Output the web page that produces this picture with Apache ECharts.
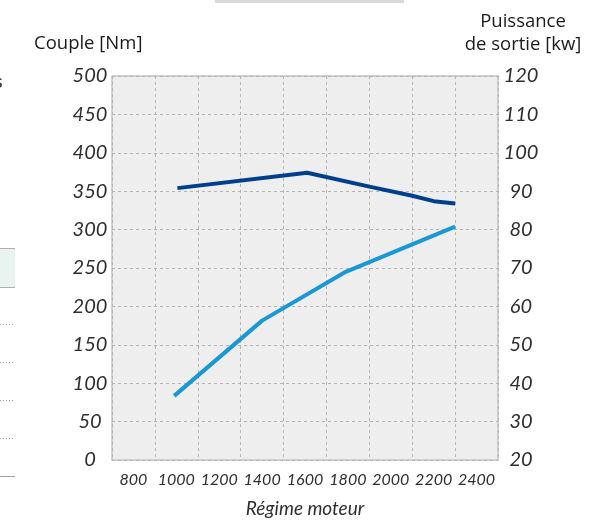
<!DOCTYPE html>
<html>
<head>
<meta charset="utf-8">
<script src="https://cdn.jsdelivr.net/npm/echarts@6/dist/echarts.min.js"></script>
<style>
html,body{margin:0;padding:0;background:#fff;}
#chart{width:605px;height:521px;}
</style>
</head>
<body>
<div id="chart"></div>
<script>
// Category tick labels of the rpm axis
var rpmLabels = ['800', '1000', '1200', '1400', '1600', '1800', '2000', '2200', '2400'];
// Torque curve [rpm, Nm]
var torqueData = [[1005, 354], [1610, 374], [1900, 356], [2100, 344], [2200, 337], [2300, 334]];
// Power curve [rpm, kW]
var powerData = [[990, 36.7], [1400, 56.3], [1790, 69], [2300, 80.8]];

var leftTitle = 'Couple [Nm]';
var rightTitle = 'Puissance\nde sortie [kw]';
var xTitle = 'Régime moteur';

var FONT = 'Lato';
var TFONT = '"Open Sans"';
var chart = echarts.init(document.getElementById('chart'), null, {renderer: 'canvas'});

var dashed = {show: true, lineStyle: {color: '#b4b4b4', type: [3, 3], width: 1}};

chart.setOption({
  animation: false,
  backgroundColor: '#ffffff',
  grid: {left: 112, right: 107, top: 76, bottom: 61, outerBoundsMode: 'none', containLabel: false, show: true, backgroundColor: '#edeeed', borderColor: '#c4c4c4', borderWidth: 1.5},
  xAxis: [
    {
      type: 'category', data: rpmLabels, boundaryGap: true, position: 'bottom',
      axisLine: {show: false}, axisTick: {show: false},
      splitLine: {show: true, interval: 0, lineStyle: {color: '#b4b4b4', type: [3, 3], width: 1}},
      axisLabel: {interval: 0, margin: 12, color: '#2e2e2e', fontFamily: FONT, fontStyle: 'italic', fontSize: 16},
      name: xTitle, nameLocation: 'middle', nameGap: 39,
      nameTextStyle: {color: '#2e2e2e', fontFamily: FONT, fontStyle: 'italic', fontSize: 19}
    },
    {type: 'value', min: 700, max: 2500, show: false}
  ],
  yAxis: [
    {
      type: 'value', min: 0, max: 500, interval: 50, position: 'left',
      axisLine: {show: false}, axisTick: {show: false},
      splitLine: dashed,
      axisLabel: {margin: 22, align: 'center', color: '#2e2e2e', fontFamily: FONT, fontStyle: 'italic', fontSize: 20}
    },
    {
      type: 'value', min: 20, max: 120, interval: 10, position: 'right',
      axisLine: {show: false}, axisTick: {show: false},
      splitLine: {show: false},
      axisLabel: {margin: 23, align: 'center', color: '#2e2e2e', fontFamily: FONT, fontStyle: 'italic', fontSize: 20}
    }
  ],
  series: [
    {
      name: 'Couple', type: 'line', xAxisIndex: 1, yAxisIndex: 0, data: torqueData,
      symbol: 'none', lineStyle: {color: '#003f8e', width: 4}, z: 3
    },
    {
      name: 'Puissance', type: 'line', xAxisIndex: 1, yAxisIndex: 1, data: powerData,
      symbol: 'none', lineStyle: {color: '#1a98d5', width: 4}, z: 3
    }
  ],
  graphic: [
    {type: 'text', x: 34, y: 44, style: {text: leftTitle, fill: '#1a1a1a', font: '18.5px ' + TFONT, verticalAlign: 'middle'}},
    {type: 'text', x: 523, y: 10, style: {text: rightTitle, fill: '#1a1a1a', font: '18.5px ' + TFONT, align: 'center', lineHeight: 23}},
    {type: 'rect', shape: {x: 215, y: 0, width: 189, height: 3}, style: {fill: '#d9d9d9'}},
    {type: 'text', x: -6, y: 72, style: {text: 's', fill: '#333', font: '20px ' + FONT}},
    {type: 'rect', shape: {x: 0, y: 248, width: 15, height: 39}, style: {fill: '#e9f3ef'}},
    {type: 'line', shape: {x1: 0, y1: 248.5, x2: 15, y2: 248.5}, style: {stroke: '#b0b0b0', lineWidth: 1}},
    {type: 'line', shape: {x1: 0, y1: 287.5, x2: 15, y2: 287.5}, style: {stroke: '#b0b0b0', lineWidth: 1}},
    {type: 'line', shape: {x1: 0, y1: 324.5, x2: 15, y2: 324.5}, style: {stroke: '#a0a0a0', lineDash: [1, 2]}},
    {type: 'line', shape: {x1: 0, y1: 362.5, x2: 15, y2: 362.5}, style: {stroke: '#a0a0a0', lineDash: [1, 2]}},
    {type: 'line', shape: {x1: 0, y1: 400.5, x2: 15, y2: 400.5}, style: {stroke: '#a0a0a0', lineDash: [1, 2]}},
    {type: 'line', shape: {x1: 0, y1: 438.5, x2: 15, y2: 438.5}, style: {stroke: '#a0a0a0', lineDash: [1, 2]}},
    {type: 'line', shape: {x1: 0, y1: 476.5, x2: 15, y2: 476.5}, style: {stroke: '#a0a0a0', lineWidth: 1}}
  ]
});
</script>
</body>
</html>
